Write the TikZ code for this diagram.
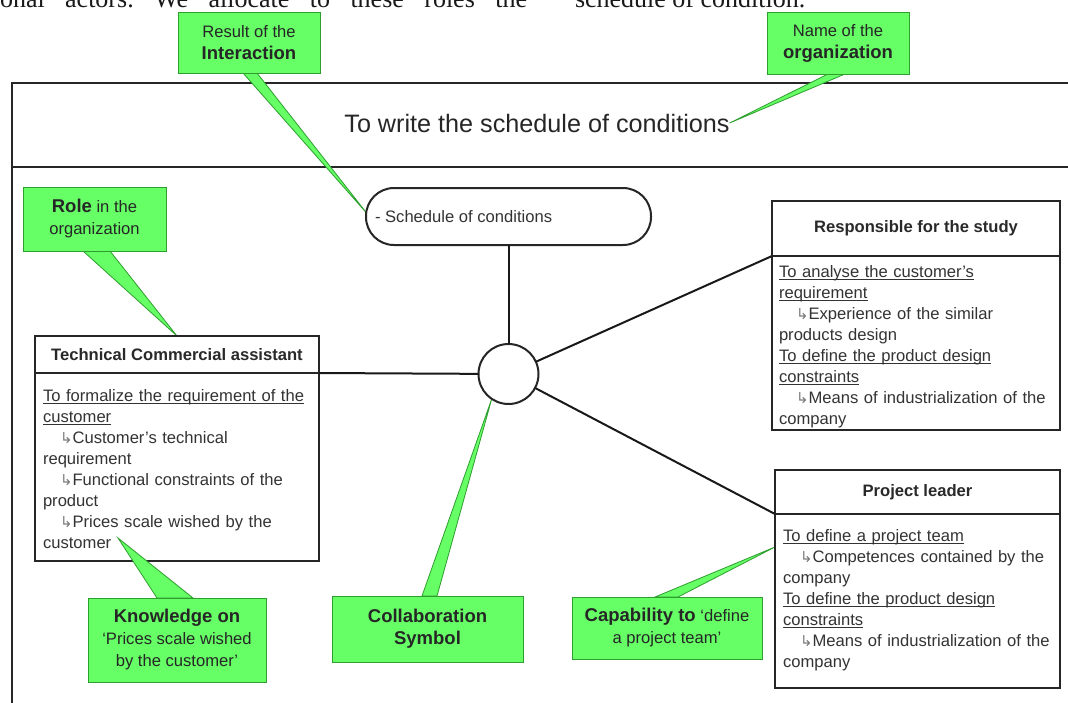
\documentclass[tikz,border=0pt]{standalone}
\usepackage{fontspec}
\setmainfont{Liberation Sans}
\newfontfamily\pagefont{Liberation Serif}
\newfontfamily\arrowfont{DejaVu Sans}
\usetikzlibrary{calc,backgrounds}
\setlength{\parindent}{0pt}
\definecolor{cgreen}{HTML}{66FF66}
\definecolor{cgreenline}{HTML}{2E9E2E}
\definecolor{txtgray}{HTML}{333333}
\definecolor{arrowgray}{HTML}{7A7A7A}
\newcommand{\uln}[1]{\leavevmode\setbox0\hbox{#1}\rlap{\rule[-2.4pt]{\wd0}{0.9pt}}\box0}
\newcommand{\hk}{\leavevmode\hspace*{17pt}{\arrowfont\fontsize{15}{15}\selectfont\color{arrowgray}↳}}
\newcommand{\bigb}[1]{{\bfseries\fontsize{18.5}{22}\selectfont #1}}
\begin{document}
\begin{tikzpicture}[x=1pt,y=-1pt,
  every node/.style={inner sep=0pt, outer sep=0pt},
  frameline/.style={draw=black!85, line width=2pt},
  boxhdr/.style={draw=black!85, line width=2pt, fill=white, font=\bfseries\fontsize{16.6}{21}\selectfont, text=txtgray!80!black},
  boxbody/.style={draw=black!85, line width=2pt, fill=white},
  bodytext/.style={anchor=north west, text width=285pt, align=left, font=\fontsize{16.6}{21}\selectfont, text=txtgray},
  callout/.style={fill=cgreen, draw=cgreenline, line width=1pt, align=center, font=\fontsize{16.6}{22}\selectfont, text=black!85},
  pointer/.style={fill=cgreen, draw=cgreenline, line width=0.8pt, line join=miter},
  conn/.style={draw=black!90, line width=2pt}]
\useasboundingbox (0,0) rectangle (1068,702);
\clip (0,0) rectangle (1068,702);

% partial line of the page text
\node[anchor=base west, font=\pagefont\fontsize{26}{30}\selectfont, text=black!90] (pagetxta) at (0,7.5) {\frenchspacing\makebox[527pt][s]{onal actors. We allocate to these roles the}};
\node[anchor=base west, font=\pagefont\fontsize{26}{30}\selectfont, text=black!90] (pagetxtb) at (575,7.5) {schedule of condition.};

% title
\node[font=\fontsize{25.2}{30}\selectfont, text=black!85] (title) at (537,123) {To write the schedule of conditions};

% result box and circle
\node[draw=black!85, line width=2pt, fill=white, rounded corners=28pt, minimum width=285pt, minimum height=57pt] (sched) at (508.5,216.5) {};
\node[anchor=west, font=\fontsize{16.6}{21}\selectfont, text=txtgray] (schedtxt) at ($(sched.west)+(9,0)$) {- Schedule of conditions};
\node[circle, draw=black!85, line width=2pt, fill=white, minimum size=60pt] (circ) at (508.5,374) {};

% roles
\node[boxhdr, minimum width=284pt, minimum height=37pt] (tch) at (177,354.5) {Technical Commercial assistant};
\node[boxbody, minimum width=284pt, minimum height=188pt, anchor=north] (tcb) at (tch.south) {};
\node[bodytext] (tct) at ($(tcb.north west)+(8,13)$) {\rule{0pt}{15pt}\uln{To formalize the requirement of the}\\
\uln{customer}\\
\hk Customer’s technical\\
requirement\\
\hk Functional constraints of the\\
product\\
\hk Prices scale wished by the\\
customer};

\node[boxhdr, minimum width=288pt, minimum height=55pt] (rsh) at (916,228.5) {Responsible for the study};
\node[boxbody, minimum width=288pt, minimum height=174pt, anchor=north] (rsb) at (rsh.south) {};
\node[bodytext] (rst) at ($(rsb.north west)+(7,6.5)$) {\rule{0pt}{15pt}\uln{To analyse the customer’s}\\
\uln{requirement}\\
\hk Experience of the similar\\
products design\\
\uln{To define the product design}\\
\uln{constraints}\\
\hk Means of industrialization of the\\
company};

\node[boxhdr, minimum width=285pt, minimum height=44pt] (plh) at (917.5,492) {Project leader};
\node[boxbody, minimum width=285pt, minimum height=174pt, anchor=north] (plb) at (plh.south) {};
\node[bodytext] (plt) at ($(plb.north west)+(8,12.5)$) {\rule{0pt}{15pt}\uln{To define a project team}\\
\hk Competences contained by the\\
company\\
\uln{To define the product design}\\
\uln{constraints}\\
\hk Means of industrialization of the\\
company};

% connectors
\draw[conn] (sched.south) -- (circ.north);
\draw[conn] (circ) -- (tch.south east);
\draw[conn] (circ) -- (rsh.south west);
\draw[conn] (circ) -- (plh.south west);

% knowledge pointer, drawn over the role box
\coordinate (knowbasea) at (157,598);
\coordinate (knowbaseb) at (193,598);
\coordinate (knowtip) at (118,538);
\filldraw[pointer] (knowbasea) -- (knowtip) -- (knowbaseb) -- cycle;

% callouts
\node[callout, minimum width=142pt, minimum height=61pt] (res) at (249,42.5) {Result of the\\\bigb{Interaction}};
\node[callout, minimum width=142pt, minimum height=62pt] (orgname) at (838,43) {Name of the\\\bigb{organization}};
\node[callout, minimum width=143pt, minimum height=64pt] (role) at (94.5,219) {\bigb{Role} in the\\organization};
\node[callout, minimum width=178pt, minimum height=84pt] (know) at (177,640) {\bigb{Knowledge on}\\`Prices scale wished\\by the customer'};
\node[callout, minimum width=191pt, minimum height=66pt] (coll) at (427.5,629) {\bigb{Collaboration}\\\bigb{Symbol}};
\node[callout, minimum width=190pt, minimum height=62pt] (cap) at (667,628) {\bigb{Capability to} `define\\a project team'};

\coordinate (captip) at ($(plb.north west)+(0,33)$);

\begin{pgfonlayer}{background}
\fill[white] (0,0) rectangle (1068,702);
\draw[frameline] (12,712) -- (12,83) -- (1078,83);
\draw[frameline] (12,167) -- (1078,167);
\filldraw[pointer] ($(res.south west)+(65,0)$) -- ($(sched.west)+(1,-3)$) -- ($(res.south west)+(79,0)$) -- cycle;
\filldraw[pointer] ($(orgname.south west)+(61,0)$) -- (title.east) -- ($(orgname.south west)+(78,0)$) -- cycle;
\filldraw[pointer] ($(role.south west)+(60,0)$) -- (tch.north) -- ($(role.south west)+(87,0)$) -- cycle;
\filldraw[pointer] ($(coll.north west)+(90,0)$) -- (circ.-124) -- ($(coll.north west)+(105,0)$) -- cycle;
\filldraw[pointer] ($(cap.north west)+(83,0)$) -- (captip) -- ($(cap.north west)+(106,0)$) -- cycle;
\end{pgfonlayer}
\end{tikzpicture}
\end{document}
